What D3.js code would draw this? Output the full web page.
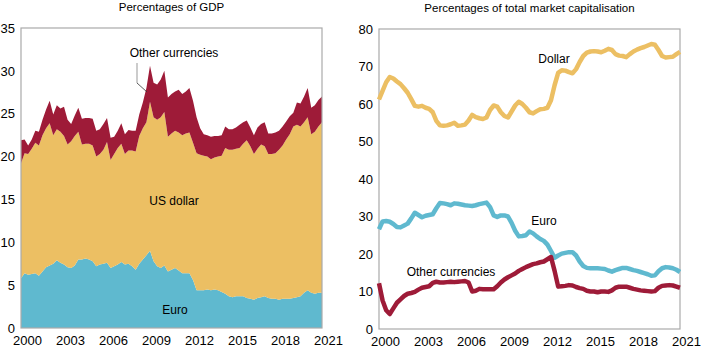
<!DOCTYPE html>
<html>
<head>
<meta charset="utf-8">
<script src="https://d3js.org/d3.v7.min.js"></script>
<style>
    body { margin: 0; background: #fff; }
    text { font-family: "Liberation Sans", Arial, sans-serif; }
</style>
</head>
<body>
<div id="chart_container"></div>
<script>
// quarterly, 2000 Q1 .. 2021 Q1
var quarters = d3.range(85).map(function (i) { return 2000 + i / 4; });
var yearTicks = [2000, 2003, 2006, 2009, 2012, 2015, 2018, 2021];

// left panel: percentages of GDP (stacked)
var gdpKeys = ["euro", "dollar", "other"];
var gdpEuro = [5.8, 6.4, 6.2, 6.3, 6.4, 6.1, 6.6, 7.1, 7.3, 7.5, 7.9, 7.6, 7.4, 7.1, 7.0, 7.3,
    8.0, 8.0, 8.1, 8.0, 7.8, 7.2, 7.4, 7.5, 7.6, 7.0, 7.2, 7.4, 7.7, 7.4, 7.5, 7.2,
    6.8, 7.5, 8.0, 8.5, 9.0, 7.8, 7.2, 7.0, 7.3, 6.6, 6.8, 7.0, 6.7, 6.4, 6.4, 6.4,
    5.6, 4.4, 4.4, 4.4, 4.5, 4.4, 4.5, 4.4, 4.2, 4.0, 3.7, 3.6, 3.7, 3.7, 3.7, 3.5,
    3.4, 3.3, 3.5, 3.6, 3.7, 3.5, 3.4, 3.4, 3.3, 3.4, 3.4, 3.4, 3.5, 3.6, 3.7, 4.1,
    4.4, 4.1, 4.0, 4.1, 4.1];
var gdpDollar = [13.4, 14.0, 14.1, 14.6, 15.2, 15.2, 15.9, 16.2, 16.6, 15.0, 15.3, 15.3, 15.0, 14.3, 14.8, 15.1,
    14.9, 13.4, 13.4, 13.5, 13.5, 12.8, 12.9, 13.3, 14.1, 12.6, 13.1, 13.6, 13.8, 12.9, 13.2, 13.5,
    13.8, 14.9, 15.3, 15.5, 17.4, 16.8, 17.1, 17.6, 17.9, 15.7, 15.9, 16.0, 16.1, 16.1, 16.3, 16.4,
    16.0, 16.0, 15.8, 15.7, 15.5, 15.3, 15.4, 15.6, 15.9, 17.0, 17.1, 17.2, 17.2, 17.3, 17.8, 18.4,
    17.8, 17.0, 17.4, 17.8, 17.5, 16.8, 16.9, 17.0, 17.5, 17.9, 18.6, 19.2, 20.0, 20.1, 19.8, 19.9,
    20.2, 18.5, 18.9, 19.4, 19.9];
var gdpOther = [2.7, 1.6, 1.0, 1.1, 1.4, 1.6, 1.8, 2.2, 2.6, 2.4, 2.8, 2.7, 3.4, 2.9, 2.0, 2.4,
    2.8, 3.0, 3.0, 3.0, 3.1, 3.0, 2.9, 3.0, 2.8, 2.6, 2.0, 2.0, 2.4, 2.3, 2.4, 2.3,
    2.4, 2.5, 3.0, 4.0, 4.2, 4.0, 4.1, 4.4, 4.8, 4.6, 4.6, 4.6, 5.0, 4.8, 4.9, 5.2,
    4.9, 4.2, 3.1, 2.5, 2.5, 2.6, 2.5, 2.4, 2.4, 2.5, 2.4, 2.4, 2.5, 2.7, 2.5, 2.3,
    2.2, 2.2, 2.5, 2.4, 2.8, 2.4, 2.4, 2.4, 2.2, 2.2, 2.1, 2.1, 1.6, 2.6, 2.7, 3.0,
    3.4, 3.1, 3.1, 3.1, 3.0];

// right panel: percentages of total market capitalisation
var capDollar = [61.2, 63.5, 65.8, 67.2, 66.8, 66.0, 65.3, 64.2, 63.0, 61.3, 59.5, 59.3, 59.5, 59.0, 58.7, 57.8,
    55.5, 54.3, 54.2, 54.3, 54.6, 55.0, 54.2, 54.3, 54.5, 55.6, 57.1, 56.5, 56.2, 56.0, 56.4, 58.4,
    59.6, 59.3, 57.8, 56.8, 56.4, 58.0, 59.6, 60.6, 60.0, 59.0, 57.8, 57.5, 58.1, 58.6, 58.7, 59.0,
    61.0, 65.0, 68.3, 69.0, 68.9, 68.5, 68.2, 69.3, 71.2, 72.8, 73.7, 74.0, 74.1, 74.0, 73.8, 74.2,
    74.7, 74.4, 73.3, 72.9, 72.8, 72.5, 73.3, 74.0, 74.5, 74.9, 75.2, 75.6, 76.0, 75.8, 74.4, 72.8,
    72.4, 72.5, 72.6, 73.3, 73.9];
var capEuro = [26.6, 28.7, 28.8, 28.6, 28.0, 27.2, 27.1, 27.6, 28.1, 29.5, 31.0, 30.4, 29.8, 30.2, 30.4, 30.6,
    32.2, 33.6, 33.5, 33.3, 33.0, 33.5, 33.4, 33.2, 33.0, 32.9, 32.8, 33.0, 33.3, 33.5, 33.7, 32.5,
    30.3, 29.9, 30.3, 30.3, 30.0, 28.3, 26.2, 24.7, 24.8, 25.0, 26.0, 25.5, 24.7, 24.0, 23.5, 22.5,
    20.8, 19.0, 19.6, 20.1, 20.3, 20.5, 20.5, 19.6, 18.0, 16.8, 16.3, 16.2, 16.2, 16.2, 16.1, 16.0,
    15.6, 15.3, 15.7, 16.0, 16.3, 16.3, 16.0, 15.7, 15.5, 15.2, 14.9, 14.6, 14.2, 14.3, 15.4, 16.2,
    16.5, 16.4, 16.2, 15.8, 15.2];
var capOther = [12.2, 7.6, 5.0, 4.0, 5.5, 7.0, 7.9, 8.8, 9.4, 9.6, 9.9, 10.5, 11.0, 11.2, 11.4, 12.3,
    12.6, 12.4, 12.4, 12.5, 12.6, 12.5, 12.6, 12.7, 12.8, 12.4, 10.0, 10.2, 10.7, 10.6, 10.6, 10.6,
    10.6, 11.4, 12.4, 13.2, 13.8, 14.3, 14.8, 15.5, 16.0, 16.5, 16.9, 17.3, 17.5, 17.8, 18.0, 18.6,
    19.2, 15.5, 11.3, 11.4, 11.5, 11.7, 11.6, 11.2, 10.9, 10.7, 10.2, 10.0, 10.0, 9.8, 10.0, 10.0,
    9.9, 10.3, 11.0, 11.3, 11.3, 11.3, 11.0, 10.7, 10.5, 10.3, 10.2, 10.1, 10.0, 10.1, 11.0, 11.5,
    11.6, 11.7, 11.6, 11.3, 11.0];

var colors = {euro: "#5fb9cf", dollar: "#ecbf63", other: "#9e1b38"};

var svg = d3.select("#chart_container").append("svg")
    .attr("width", 701)
    .attr("height", 352);

function drawAxes(g, x, y, width, height, yTicks, title) {
    g.append("g")
        .attr("class", "y-axis")
        .call(d3.axisLeft(y).tickValues(yTicks).tickSize(0).tickPadding(6))
        .call(function (a) { a.select(".domain").remove(); });

    g.append("g")
        .attr("class", "x-axis")
        .attr("transform", "translate(0," + height + ")")
        .call(d3.axisBottom(x).tickValues(yearTicks).tickSize(0).tickPadding(8).tickFormat(d3.format("d")))
        .call(function (a) { a.select(".domain").remove(); })
        .selectAll("text").attr("dx", 6);

    g.selectAll(".tick text")
        .attr("font-size", 13)
        .attr("font-family", "'Liberation Sans', Arial, sans-serif")
        .attr("fill", "#000");

    g.append("rect")
        .attr("width", width)
        .attr("height", height)
        .attr("fill", "none")
        .attr("stroke", "#aaa")
        .attr("stroke-width", 1.2);

    g.append("text")
        .attr("x", width / 2)
        .attr("y", -17)
        .attr("text-anchor", "middle")
        .attr("font-size", 11.5)
        .text(title);
}

function label(g, x, y, txt) {
    g.append("text")
        .attr("x", x)
        .attr("y", y)
        .attr("text-anchor", "middle")
        .attr("font-size", 12)
        .attr("fill", "#000")
        .text(txt);
}

function display_gdp_chart() {
    var margin = {top: 28, left: 21},
        width = 301,
        height = 300;

    var g = svg.append("g")
        .attr("transform", "translate(" + margin.left + "," + margin.top + ")");

    var x = d3.scaleLinear().domain([2000, 2021]).range([0, width]);
    var y = d3.scaleLinear().domain([0, 35]).range([height, 0]);

    var data = quarters.map(function (q, i) {
        return {t: q, euro: gdpEuro[i], dollar: gdpDollar[i], other: gdpOther[i]};
    });

    var series = d3.stack().keys(gdpKeys)(data);

    var area = d3.area()
        .x(function (d) { return x(d.data.t); })
        .y0(function (d) { return y(d[0]); })
        .y1(function (d) { return y(d[1]); });

    g.selectAll(".layer")
        .data(series)
        .enter().append("path")
        .attr("class", "layer")
        .attr("fill", function (s) { return colors[s.key]; })
        .attr("d", area);

    drawAxes(g, x, y, width, height, [0, 5, 10, 15, 20, 25, 30, 35], "Percentages of GDP");

    label(g, 153, 29, "Other currencies");
    label(g, 153, 177, "US dollar");
    label(g, 154, 286, "Euro");

    // leader line for "Other currencies"
    g.append("line")
        .attr("x1", 116).attr("y1", 35).attr("x2", 116).attr("y2", 55)
        .attr("stroke", "#bbb").attr("stroke-width", 1.5);
    g.append("line")
        .attr("x1", 116).attr("y1", 55).attr("x2", 126).attr("y2", 64)
        .attr("stroke", "#333").attr("stroke-width", 0.8);
}

function display_cap_chart() {
    var margin = {top: 29, left: 379},
        width = 301,
        height = 300;

    var g = svg.append("g")
        .attr("transform", "translate(" + margin.left + "," + margin.top + ")");

    var x = d3.scaleLinear().domain([2000, 2021]).range([0, width]);
    var y = d3.scaleLinear().domain([0, 80]).range([height, 0]);

    var line = d3.line()
        .x(function (d) { return x(d.t); })
        .y(function (d) { return y(d.v); });

    var lines = [
        {key: "dollar", values: capDollar},
        {key: "euro", values: capEuro},
        {key: "other", values: capOther}
    ];

    drawAxes(g, x, y, width, height, [0, 10, 20, 30, 40, 50, 60, 70, 80], "Percentages of total market capitalisation");

    g.selectAll(".series")
        .data(lines)
        .enter().append("path")
        .attr("class", "series")
        .attr("fill", "none")
        .attr("stroke", function (s) { return colors[s.key]; })
        .attr("stroke-width", 4.5)
        .attr("stroke-linejoin", "round")
        .attr("d", function (s) {
            return line(s.values.map(function (v, i) { return {t: quarters[i], v: v}; }));
        });

    label(g, 175, 34, "Dollar");
    label(g, 165, 196, "Euro");
    label(g, 72, 247, "Other currencies");
}

display_gdp_chart();
display_cap_chart();
</script>
</body>
</html>
